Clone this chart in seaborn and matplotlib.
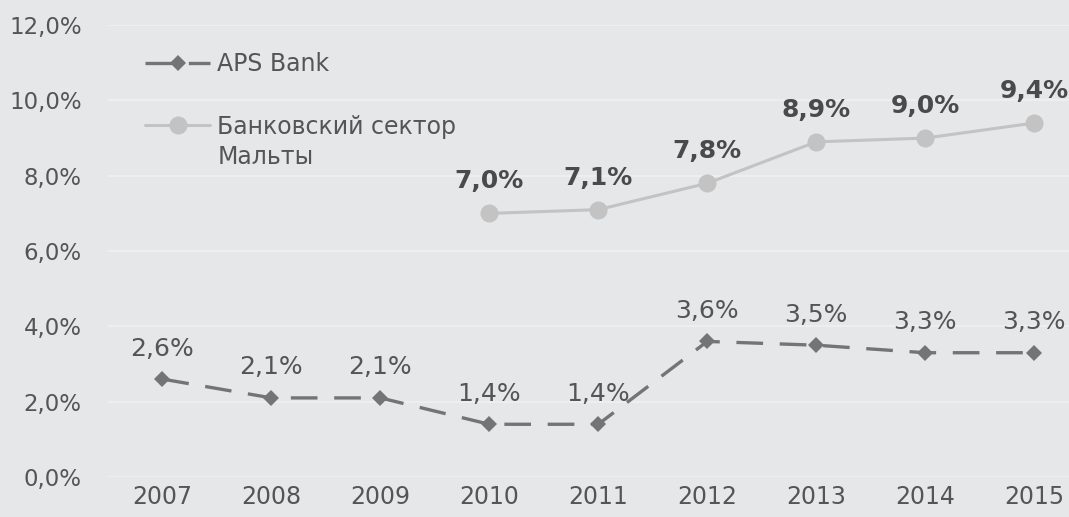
import pandas as pd
import numpy as np
import matplotlib
matplotlib.use('Agg')
import matplotlib.pyplot as plt
import seaborn as sns

years = [2007, 2008, 2009, 2010, 2011, 2012, 2013, 2014, 2015]
aps_bank = [2.6, 2.1, 2.1, 1.4, 1.4, 3.6, 3.5, 3.3, 3.3]
malta_sector = [np.nan, np.nan, np.nan, 7.0, 7.1, 7.8, 8.9, 9.0, 9.4]
y_ticks = [0, 2, 4, 6, 8, 10, 12]

aps_name = 'APS Bank'
malta_name = 'Банковский сектор'
malta_name_2 = 'Мальты'

df = pd.DataFrame({
    'year': years * 2,
    'value': aps_bank + malta_sector,
    'series': [aps_name] * len(years) + [malta_name] * len(years),
})

sns.set_theme(style='white')
plt.rcParams['font.family'] = ['DejaVu Sans']

bg = '#e6e7e9'
fig = plt.figure(figsize=(10.69, 5.17), dpi=100, facecolor=bg)
ax = fig.add_axes([0.101, 0.0774, 0.899, 0.874])
ax.set_facecolor(bg)

for y in y_ticks:
    ax.axhline(y, color='#f0f0f1', lw=1.2, zorder=0)

aps_color = '#747474'
malta_color = '#c3c3c3'

sns.lineplot(data=df[df.series == aps_name], x='year', y='value', ax=ax,
             color=aps_color, lw=2.4, linestyle=(0, (8, 5)), marker='D',
             markersize=8, markeredgewidth=0, label=aps_name)
sns.lineplot(data=df[df.series == malta_name].dropna(), x='year', y='value', ax=ax,
             color=malta_color, lw=2.2, marker='o', markersize=13,
             markeredgewidth=0, label=malta_name)

def fmt(v):
    return f'{v:.1f}%'.replace('.', ',')

for x, v in zip(years, aps_bank):
    ax.annotate(fmt(v), (x, v), xytext=(0, 22), textcoords='offset points',
                ha='center', va='center', fontsize=18, color='#555555')
for x, v in zip(years, malta_sector):
    if not np.isnan(v):
        ax.annotate(fmt(v), (x, v), xytext=(0, 23), textcoords='offset points',
                    ha='center', va='center', fontsize=18, color='#4a4a4a',
                    fontweight='bold')

ax.set_xlim(2006.5, 2015.32)
ax.set_ylim(0, 12)
ax.set_xticks(years)
ax.set_xticklabels([str(y) for y in years])
ax.set_yticks(y_ticks)
ax.set_yticklabels([fmt(y) for y in y_ticks])
ax.tick_params(axis='y', length=0, labelsize=16.5, colors='#555555', pad=19)
ax.tick_params(axis='x', length=0, labelsize=17, colors='#555555', pad=6)
ax.set_xlabel('')
ax.set_ylabel('')
for s in ax.spines.values():
    s.set_visible(False)

leg = ax.legend(loc='upper left', bbox_to_anchor=(0.116, 0.94),
                bbox_transform=fig.transFigure, frameon=False, fontsize=17,
                handlelength=2.75, handletextpad=0.3, labelspacing=1.62,
                labelcolor='#555555')

# second line of the Malta label sits under the first, as in the original
fig.canvas.draw()
t = leg.get_texts()[1]
bb = t.get_window_extent().transformed(fig.transFigure.inverted())
fig.text(bb.x0, bb.y0 - 0.013, malta_name_2, fontsize=17, color='#555555',
         ha='left', va='top')

fig.savefig('out.png', dpi=100, facecolor=bg)
